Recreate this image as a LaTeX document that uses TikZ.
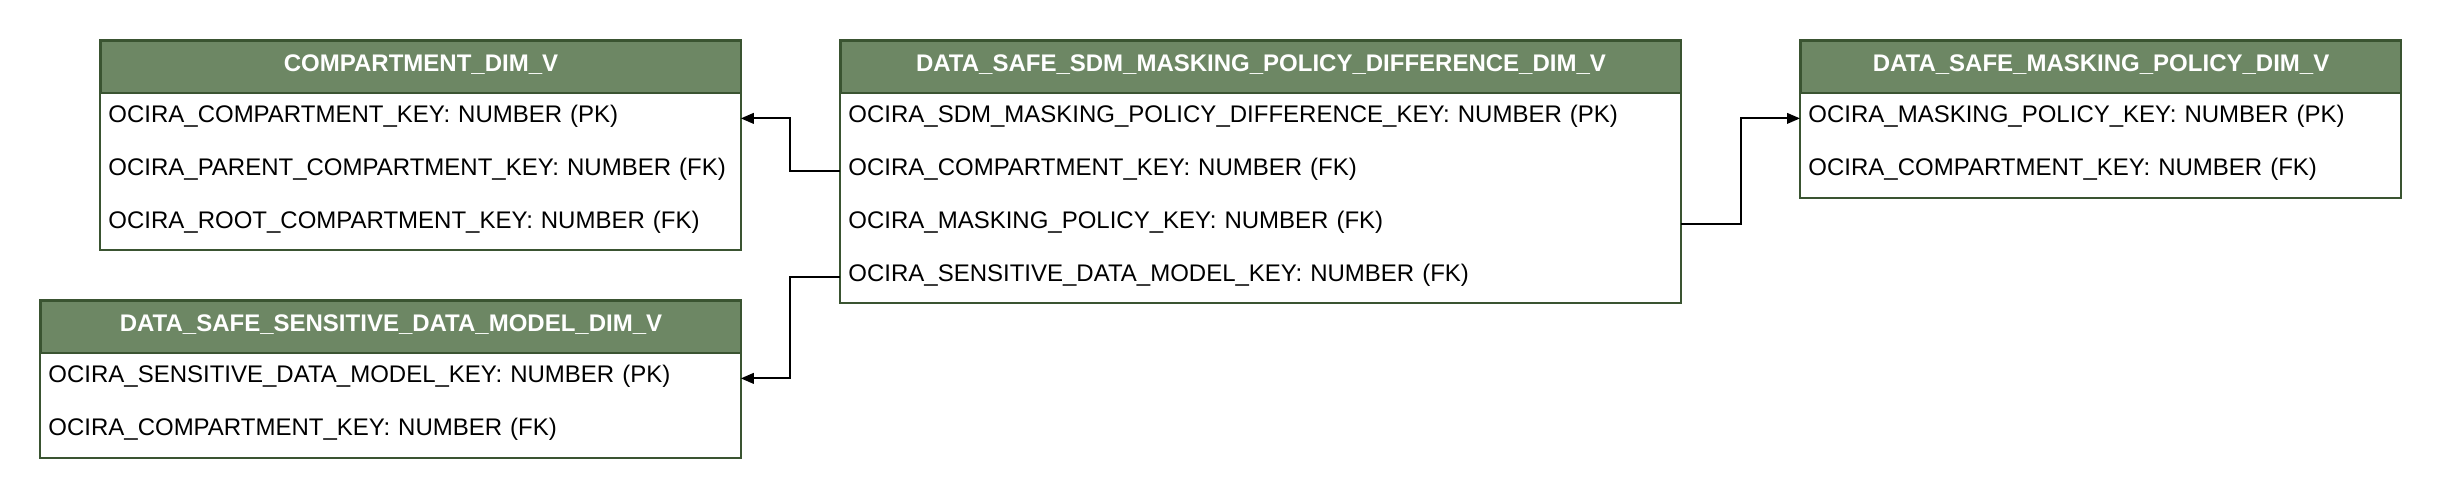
\documentclass[tikz,border=0pt]{standalone}
\usepackage{fontspec}
\setmainfont{Liberation Sans}
\usetikzlibrary{arrows.meta}
\definecolor{hdrfill}{HTML}{6D8764}
\definecolor{hdrline}{HTML}{3A5431}
\begin{document}
\begin{tikzpicture}[x=0.5pt,y=-0.5pt,
  hdr/.style={anchor=north west, fill=hdrfill, draw=hdrline, line width=1pt, text=white,
    font=\bfseries\fontsize{12}{14}\selectfont, minimum width=#1, minimum height=26pt, inner sep=0pt,
    text height=8.8pt, text depth=4.2pt},
  fld/.style={anchor=north west, minimum height=26pt, text width=#1, inner xsep=4pt, inner ysep=0pt,
    align=left, font=\fontsize{12}{14}\selectfont, text height=8.8pt, text depth=4.2pt},
  frame/.style={draw=hdrline, line width=1pt},
  link/.style={draw=black, line width=1pt, -{Triangle[length=6.5pt,width=5.3pt]}},
]
\useasboundingbox (0,0) rectangle (2440,496);

% COMPARTMENT_DIM_V
\node[hdr=320pt] (h1) at (100,40) {COMPARTMENT\_DIM\_V};
\node[fld=312pt] (a1) at (100,92) {OCIRA\_COMPARTMENT\_KEY: NUMBER (PK)};
\node[fld=312pt] (a2) at (a1.south west) {OCIRA\_PARENT\_COMPARTMENT\_KEY: NUMBER (FK)};
\node[fld=312pt] (a3) at (a2.south west) {OCIRA\_ROOT\_COMPARTMENT\_KEY: NUMBER (FK)};
\draw[frame] (h1.north west) rectangle (a3.south east);

% DATA_SAFE_SENSITIVE_DATA_MODEL_DIM_V
\node[hdr=350pt] (h2) at (40,300) {DATA\_SAFE\_SENSITIVE\_DATA\_MODEL\_DIM\_V};
\node[fld=342pt] (s1) at (40,352) {OCIRA\_SENSITIVE\_DATA\_MODEL\_KEY: NUMBER (PK)};
\node[fld=342pt] (s2) at (s1.south west) {OCIRA\_COMPARTMENT\_KEY: NUMBER (FK)};
\draw[frame] (h2.north west) rectangle (s2.south east);

% DATA_SAFE_SDM_MASKING_POLICY_DIFFERENCE_DIM_V
\node[hdr=420pt] (h3) at (840,40) {DATA\_SAFE\_SDM\_MASKING\_POLICY\_DIFFERENCE\_DIM\_V};
\node[fld=412pt] (c1) at (840,92) {OCIRA\_SDM\_MASKING\_POLICY\_DIFFERENCE\_KEY: NUMBER (PK)};
\node[fld=412pt] (c2) at (c1.south west) {OCIRA\_COMPARTMENT\_KEY: NUMBER (FK)};
\node[fld=412pt] (c3) at (c2.south west) {OCIRA\_MASKING\_POLICY\_KEY: NUMBER (FK)};
\node[fld=412pt] (c4) at (c3.south west) {OCIRA\_SENSITIVE\_DATA\_MODEL\_KEY: NUMBER (FK)};
\draw[frame] (h3.north west) rectangle (c4.south east);

% DATA_SAFE_MASKING_POLICY_DIM_V
\node[hdr=300pt] (h4) at (1800,40) {DATA\_SAFE\_MASKING\_POLICY\_DIM\_V};
\node[fld=292pt] (m1) at (1800,92) {OCIRA\_MASKING\_POLICY\_KEY: NUMBER (PK)};
\node[fld=292pt] (m2) at (m1.south west) {OCIRA\_COMPARTMENT\_KEY: NUMBER (FK)};
\draw[frame] (h4.north west) rectangle (m2.south east);

% connectors
\draw[link] (c2.west) -- ++(-50,0) |- (a1.east);
\draw[link] (c4.west) -- ++(-50,0) |- (s1.east);
\draw[link] (c3.east) -- ++(60,0) |- (m1.west);
\end{tikzpicture}
\end{document}
